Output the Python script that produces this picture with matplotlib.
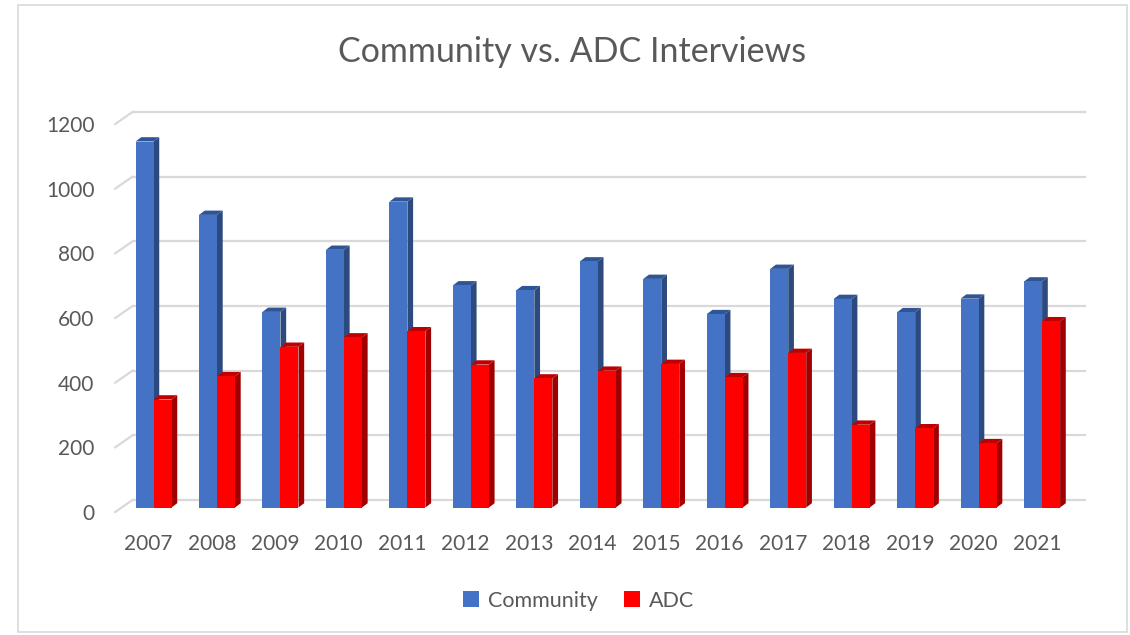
#set up modules
import numpy as np
import matplotlib.pyplot as plt
from matplotlib.patches import Polygon, Rectangle, Patch

plt.rcParams['font.family'] = ['Lato', 'DejaVu Sans']

#chart data
years = ['2007', '2008', '2009', '2010', '2011', '2012', '2013', '2014',
         '2015', '2016', '2017', '2018', '2019', '2020', '2021']
community = [1132, 905, 605, 797, 946, 687, 672, 761, 707, 598, 738, 645, 604, 646, 699]
adc = [334, 406, 497, 526, 545, 442, 399, 423, 444, 403, 478, 256, 245, 199, 576]
y_ticks = [0, 200, 400, 600, 800, 1000, 1200]

text_col = '#595959'
grid_col = '#d9d9d9'

fig = plt.figure(figsize=(11.3, 6.35), dpi=100)
ax = fig.add_axes([0.1031, 0.1937, 0.8425, 0.611])
ax.set_xlim(-0.5, 14.5)
ax.set_ylim(0, 1200)
for s in ax.spines.values():
    s.set_visible(False)

#pixel -> data unit conversion (fake 3d offsets)
bb = ax.get_window_extent()
px_x = 15.0 / bb.width
px_y = 1200.0 / bb.height

#back wall grid + left floor diagonals
wall_dx, wall_dy = 16 * px_x, 12 * px_y
for t in y_ticks:
    ax.plot([-0.5 + wall_dx, 14.5 + wall_dx], [t + wall_dy, t + wall_dy], color=grid_col, lw=1.6, zorder=1, clip_on=False)
    ax.plot([-0.52, -0.5 + wall_dx], [t, t + wall_dy], color=grid_col, lw=1.6, zorder=1, clip_on=False)

#3d-ish bars
bw = 18 * px_x
off_x, off_y = 5.3 * px_x, 4.5 * px_y
dep_x, dep_y = 5.7 * px_x, 4.3 * px_y
series = [(community, '#4472C4', '#2C4A7E', '#2F5597', -1),
          (adc, '#FF0000', '#A00000', '#C00000', 0)]
z = 2
for vals, front, side, top, pos in series:
    for i, v in enumerate(vals):
        x0 = i + pos * bw + off_x
        x1 = x0 + bw
        y0 = off_y
        y1 = v + off_y
        ax.add_patch(Polygon([[x1, y0], [x1 + dep_x, y0 + dep_y], [x1 + dep_x, y1 + dep_y], [x1, y1]],
                             closed=True, facecolor=side, edgecolor='none', zorder=z, clip_on=False))
        ax.add_patch(Polygon([[x0, y1], [x1, y1], [x1 + dep_x, y1 + dep_y], [x0 + dep_x, y1 + dep_y]],
                             closed=True, facecolor=top, edgecolor='none', zorder=z, clip_on=False))
        ax.add_patch(Rectangle((x0, y0), bw, v, facecolor=front, edgecolor='none', zorder=z + 0.5, clip_on=False))
    z += 1

ax.set_xticks(np.arange(len(years)))
ax.set_xticklabels(years)
ax.set_yticks(y_ticks)
ax.set_yticklabels([str(t) for t in y_ticks])
ax.tick_params(axis='both', length=0, labelsize=15, labelcolor=text_col)
ax.tick_params(axis='x', pad=16)
ax.tick_params(axis='y', pad=16)

fig.text(0.506, 0.918, 'Community vs. ADC Interviews', ha='center', va='center', fontsize=24.5, color=text_col)

handles = [Patch(facecolor='#4472C4', label='Community'), Patch(facecolor='#FF0000', label='ADC')]
fig.legend(handles=handles, loc='center', bbox_to_anchor=(0.512, 0.054), ncol=2, frameon=False,
           fontsize=15.5, labelcolor=text_col, handlelength=0.75, handleheight=0.75,
           handletextpad=0.4, columnspacing=1.2)

#outer chart border
fig.add_artist(Rectangle((18 / 1130, 3 / 635), 1109 / 1130, 627 / 635, transform=fig.transFigure,
                         facecolor='none', edgecolor=grid_col, lw=1.2))

plt.savefig('out.png')
